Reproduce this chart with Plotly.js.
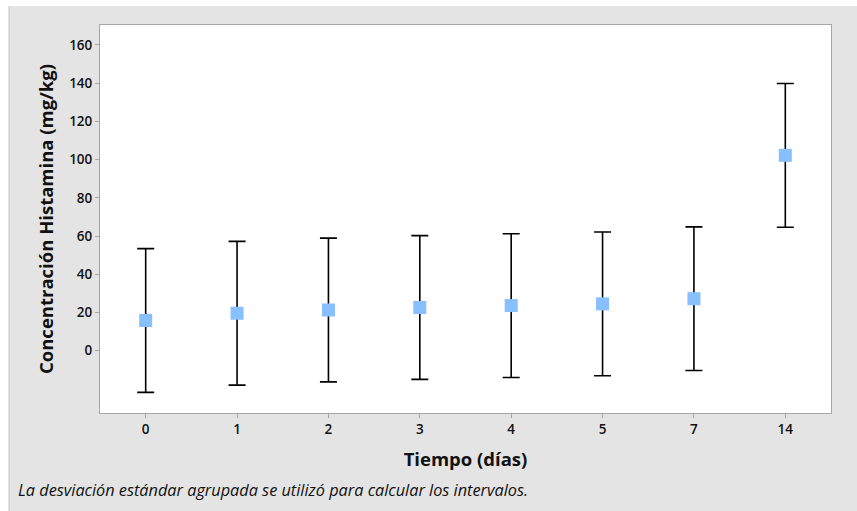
<!DOCTYPE html>
<html>
<head>
<meta charset="utf-8">
<script src="https://cdn.plot.ly/plotly-3.0.1.min.js"></script>
<style>html,body{margin:0;padding:0;background:#fff;}#chart{width:857px;height:511px;}</style>
</head>
<body>
<div id="chart"></div>
<script>
// Data
const days = ['0', '1', '2', '3', '4', '5', '7', '14'];
const meanHistamine = [15.8, 19.6, 21.3, 22.6, 23.6, 24.5, 27.2, 102.2];
const ciHalfWidth = [37.6, 37.6, 37.6, 37.6, 37.6, 37.6, 37.6, 37.6];
const yTickVals = [0, 20, 40, 60, 80, 100, 120, 140, 160];
const yTickText = ['0', '20', '40', '60', '80', '100', '120', '140', '160'];

const FONT = '"Open Sans", "Noto Sans", sans-serif';

const trace = {
  type: 'scatter',
  mode: 'markers',
  x: days,
  y: meanHistamine,
  marker: { symbol: 'square', size: 13, color: '#87bfff' },
  error_y: { type: 'data', array: ciHalfWidth, visible: true, color: '#000', thickness: 1.6, width: 8.5 },
  hoverinfo: 'x+y',
  showlegend: false
};

const W = 731, H = 388;
const layout = {
  width: 857, height: 511,
  margin: { l: 100, r: 26, t: 25, b: 98 },
  paper_bgcolor: '#e4e4e4',
  plot_bgcolor: '#ffffff',
  font: { family: FONT, color: '#000' },
  xaxis: {
    type: 'category',
    range: [-0.5, 7.5],
    showgrid: false, zeroline: false,
    showline: true, mirror: true, linecolor: '#a6a6a6', linewidth: 1,
    ticks: 'outside', ticklen: 4, tickcolor: '#a6a6a6',
    tickfont: { family: FONT, size: 13.5, weight: 600, color: '#111' },
    title: { text: 'Tiempo (días)', font: { family: FONT, size: 18.5, weight: 'bold', color: '#111' }, standoff: 15 }
  },
  yaxis: {
    range: [-32.6, 170.4],
    showgrid: false, zeroline: false,
    showline: true, mirror: true, linecolor: '#a6a6a6', linewidth: 1,
    tickmode: 'array', tickvals: yTickVals, ticktext: yTickText,
    ticks: 'outside', ticklen: 4, tickcolor: '#a6a6a6',
    tickfont: { family: FONT, size: 13.5, weight: 600, color: '#111' },
    title: { text: 'Concentración Histamina (mg/kg)', font: { family: FONT, size: 18.5, weight: 'bold', color: '#111' }, standoff: 10 }
  },
  shapes: [
    // white strips outside the gray panel (top and left)
    { type: 'rect', xref: 'paper', yref: 'paper', x0: -100 / W, x1: 26 / W + 1, y0: (413 - 6) / H, y1: 413 / H, fillcolor: '#ffffff', line: { width: 0 }, layer: 'below' },
    { type: 'rect', xref: 'paper', yref: 'paper', x0: -100 / W, x1: -91 / W, y0: -98 / H, y1: 413 / H, fillcolor: '#ffffff', line: { width: 0 }, layer: 'below' },
    { type: 'line', xref: 'paper', yref: 'paper', x0: -91 / W, x1: -91 / W, y0: -98 / H, y1: (413 - 6) / H, line: { color: '#c4c4c4', width: 1 } }
  ],
  annotations: [
    { text: '<i>La desviación estándar agrupada se utilizó para calcular los intervalos.</i>', xref: 'paper', yref: 'paper',
      x: -84 / W, y: -77 / H, xanchor: 'left', yanchor: 'middle', showarrow: false,
      font: { family: FONT, size: 16.3, color: '#111' } }
  ]
};

Plotly.newPlot('chart', [trace], layout, { displayModeBar: false, staticPlot: true });
</script>
</body>
</html>
